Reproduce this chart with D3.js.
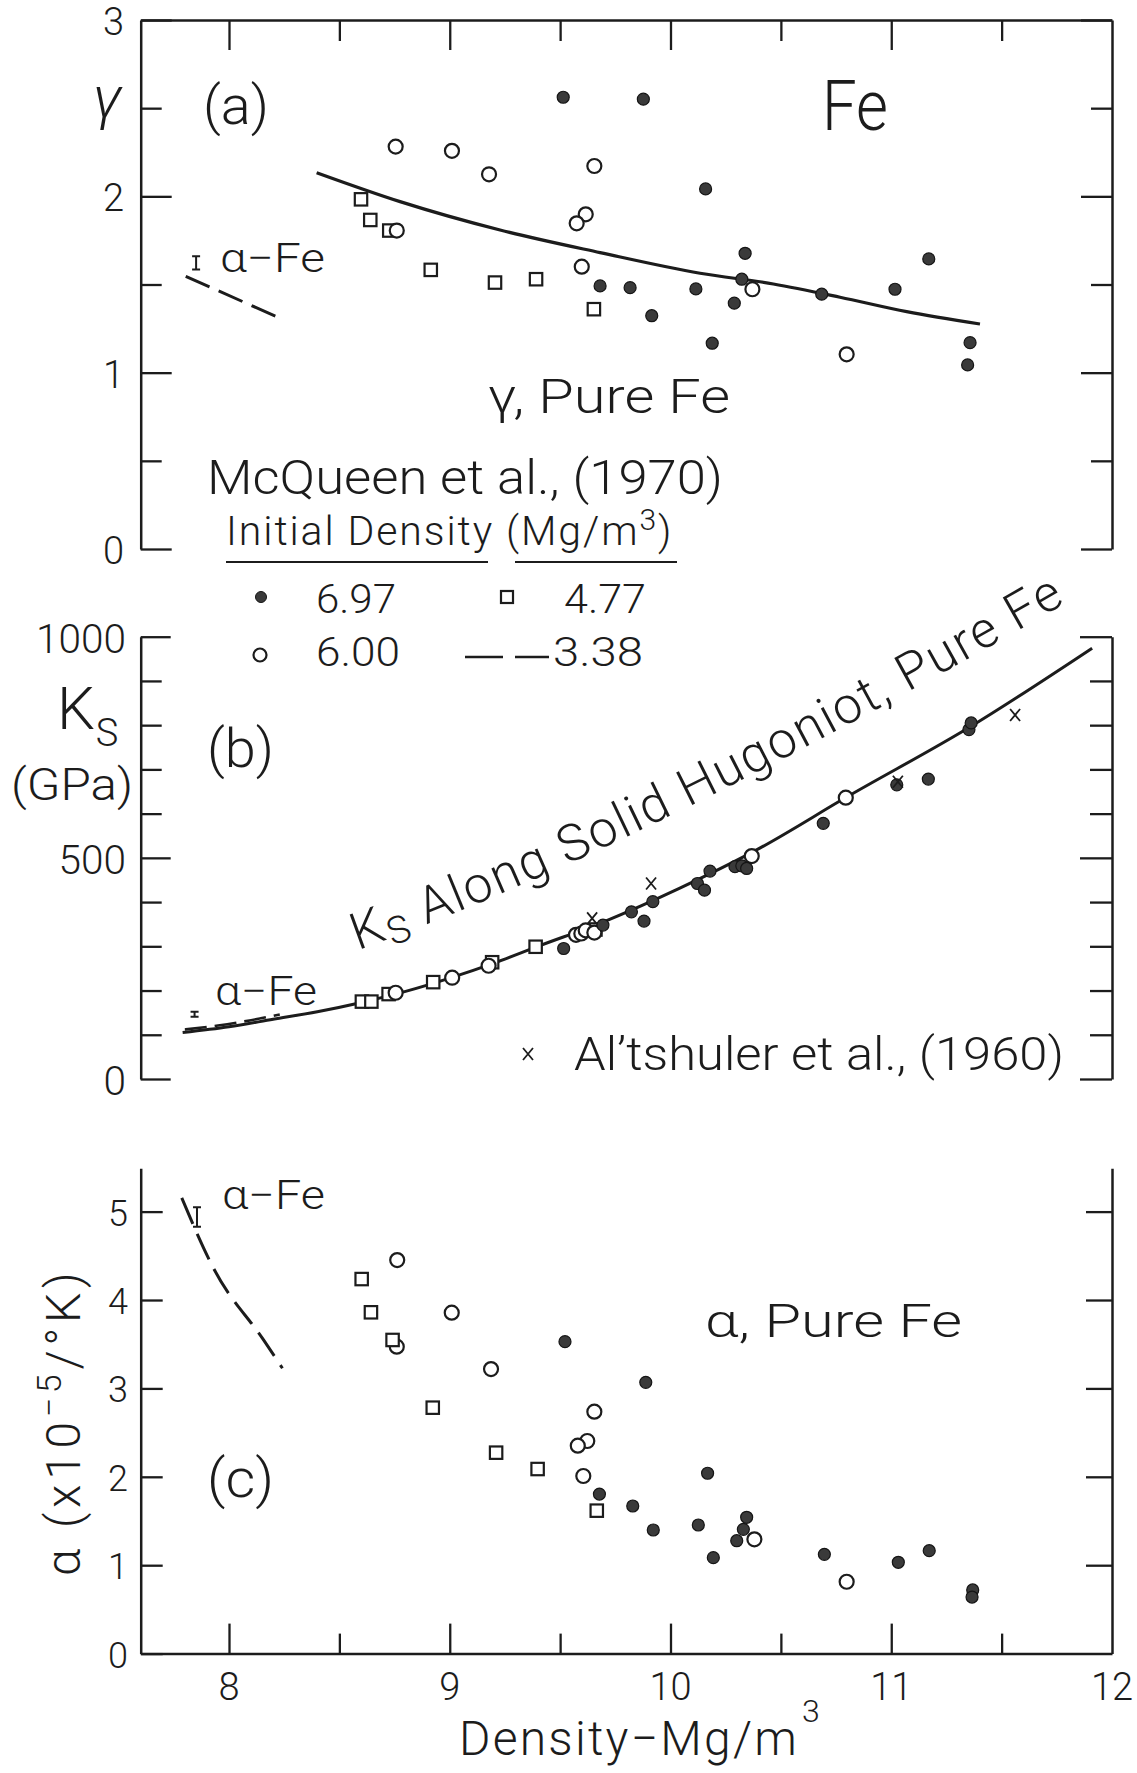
<!DOCTYPE html>
<html><head><meta charset="utf-8">
<script src="https://cdn.jsdelivr.net/npm/d3@7"></script>
<style>
body{margin:0;background:#fff}
svg{display:block;background:#fff}
text{font-family:Roboto,"Open Sans","DejaVu Sans",sans-serif;font-weight:300;fill:#1c1c1c}
</style></head>
<body><svg id="chart" width="1137" height="1773"></svg>
<script>
// ---------------- DATA ----------------
// Panel (a): Grüneisen gamma vs density
const gFilledRho = [9.514, 9.877, 9.681, 9.817, 9.915, 10.115, 10.159, 10.338, 10.323, 10.289, 10.189, 10.685, 11.017, 11.170, 11.357, 11.346];
const gFilledVal = [2.562, 2.551, 1.492, 1.482, 1.323, 1.475, 2.042, 1.677, 1.530, 1.394, 1.167, 1.445, 1.473, 1.645, 1.170, 1.044];
const gOpenRho = [8.755, 9.010, 9.178, 9.655, 9.616, 9.575, 9.598, 8.760, 10.371, 10.798];
const gOpenVal = [2.282, 2.258, 2.125, 2.172, 1.898, 1.847, 1.601, 1.806, 1.473, 1.104];
const gSqRho = [8.598, 8.640, 8.726, 8.914, 9.205, 9.391, 9.653];
const gSqVal = [1.983, 1.866, 1.806, 1.583, 1.511, 1.530, 1.360];
const gCurveRho = [8.397, 8.775, 9.228, 9.681, 10.134, 10.466, 10.768, 11.070, 11.402];
const gCurveVal = [2.134, 1.970, 1.809, 1.681, 1.564, 1.503, 1.428, 1.346, 1.276];
const gDashRho = [7.804, 8.235];
const gDashVal = [1.546, 1.307];
const gErrRho = 7.851, gErrLo = 1.585, gErrHi = 1.660;

// Panel (b): K_S vs density
const kFilledRho = [9.516, 9.694, 9.823, 9.880, 9.920, 10.122, 10.154, 10.179, 10.292, 10.323, 10.345, 10.692, 11.025, 11.168, 11.352, 11.362];
const kFilledVal = [295, 348, 378, 357, 401, 442, 427, 470, 480, 482, 476, 578, 665, 678, 790, 805];
const kOpenRho = [8.755, 9.011, 9.176, 9.572, 9.596, 9.616, 9.655, 10.368, 10.794];
const kOpenVal = [195, 229, 256, 326, 329, 336, 331, 504, 636];
const kSqRho = [8.602, 8.645, 8.723, 8.925, 9.192, 9.389, 9.660];
const kSqVal = [175, 175, 192, 219, 264, 299, 338];
const kAltRho = [9.645, 9.912, 11.030, 11.561];
const kAltVal = [363, 442, 672, 823];
const kCurveRho = [7.79, 8.0, 8.2, 8.4, 8.6, 8.8, 9.0, 9.2, 9.4, 9.7, 10.04, 10.39, 10.8, 11.36, 11.91];
const kCurveVal = [105, 118, 135, 152, 173, 198, 228, 262, 300, 356, 431, 518, 638, 797, 974];
const kDashRho = [7.80, 7.95, 8.10, 8.23];
const kDashVal = [112, 121, 133, 146];
const kErrRho = 7.844, kErrLo = 141, kErrHi = 152;

// Panel (c): thermal expansion alpha vs density
const aFilledRho = [9.522, 9.888, 9.678, 9.829, 9.922, 10.168, 10.126, 10.194, 10.345, 10.330, 10.300, 10.697, 11.032, 11.172, 11.369, 11.366];
const aFilledVal = [3.529, 3.069, 1.805, 1.670, 1.398, 2.040, 1.455, 1.085, 1.542, 1.406, 1.277, 1.123, 1.033, 1.164, 0.720, 0.640];
const aOpenRho = [8.762, 9.009, 8.760, 9.187, 9.655, 9.623, 9.580, 9.605, 10.380, 10.798];
const aOpenVal = [4.452, 3.857, 3.472, 3.219, 2.737, 2.405, 2.352, 2.009, 1.293, 0.813];
const aSqRho = [8.601, 8.643, 8.741, 8.923, 9.210, 9.398, 9.666];
const aSqVal = [4.237, 3.861, 3.548, 2.782, 2.273, 2.088, 1.617];
const aDashRho = [7.786, 7.933, 8.158, 8.242];
const aDashVal = [5.155, 4.345, 3.544, 3.228];
const aErrRho = 7.855, aErrLo = 4.83, aErrHi = 5.05;

// Tick labels
const xTickLabels = ["8", "9", "10", "11", "12"];
const xTickVals = [8, 9, 10, 11, 12];
const gTickVals = [0, 1, 2, 3];
const kTickVals = [0, 500, 1000];
const aTickVals = [0, 1, 2, 3, 4, 5];
const legendLabels = ["6.97", "6.00", "4.77", "3.38"];

// ---------------- SCALES ----------------
const svg = d3.select("#chart");
const INK = "#1c1c1c";
const x = d3.scaleLinear().domain([7.6, 12]).range([140.7, 1112]);
const yA = d3.scaleLinear().domain([0, 3]).range([549, 20]);
const yB = d3.scaleLinear().domain([0, 1000]).range([1079, 636.7]);
const yC = d3.scaleLinear().domain([0, 5.49]).range([1653.6, 1168.3]);

const zip = (a, b) => a.map((v, i) => [v, b[i]]);

function styleAxis(g, showDomain) {
  g.selectAll("text").remove();
  g.selectAll("line").attr("stroke", INK).attr("stroke-width", 2.3);
  g.select(".domain").attr("stroke", showDomain ? INK : "none").attr("stroke-width", 2.5);
}
function axis(gen, scale, vals, size, tx, ty, showDomain) {
  const a = gen(scale).tickValues(vals).tickSize(size).tickSizeOuter(0).tickFormat("");
  const g = svg.append("g").attr("transform", `translate(${tx},${ty})`).call(a);
  styleAxis(g, showDomain);
  return g;
}
const L = x.range()[0], R = x.range()[1];

// ---------------- PANEL (a) ----------------
axis(d3.axisRight, yA, [0, 1, 2, 3], 31, L, 0, true);
axis(d3.axisRight, yA, [0.5, 1.5, 2.5], 21, L, 0, false);
axis(d3.axisLeft, yA, [0, 1, 2, 3], 31, R, 0, true);
axis(d3.axisLeft, yA, [0.5, 1.5, 2.5], 21, R, 0, false);
axis(d3.axisBottom, x, [8, 9, 10, 11], 30, 0, yA(3), true);
axis(d3.axisBottom, x, [8.5, 9.5, 10.5, 11.5], 21, 0, yA(3), false);

// ---------------- PANEL (b) ----------------
axis(d3.axisRight, yB, [0, 500, 1000], 30, L, 0, true);
axis(d3.axisRight, yB, [100, 200, 300, 400, 600, 700, 800, 900], 21, L, 0, false);
axis(d3.axisLeft, yB, [0, 500, 1000], 32, R, 0, true);
axis(d3.axisLeft, yB, [100, 200, 300, 400, 600, 700, 800, 900], 22, R, 0, false);

// ---------------- PANEL (c) ----------------
axis(d3.axisRight, yC, [0, 1, 2, 3, 4, 5], 22, L, 0, true);
axis(d3.axisLeft, yC, [1, 2, 3, 4, 5], 26, R, 0, true);
axis(d3.axisTop, x, [8, 9, 10, 11], 30, 0, yC(0), true);
axis(d3.axisTop, x, [8.5, 9.5, 10.5, 11.5], 20, 0, yC(0), false);

// ---------------- text helpers ----------------
function txt(px, py, s, size, opt = {}) {
  const t = svg.append("text").attr("x", px).attr("y", py).attr("font-size", size).text(s);
  if (opt.anchor) t.attr("text-anchor", opt.anchor);
  if (opt.len) t.attr("textLength", opt.len).attr("lengthAdjust", "spacingAndGlyphs");
  if (opt.italic) t.attr("font-style", "italic");
  return t;
}
// spread letters so that a text (with tspans) spans a target width
function fit(t, target) {
  const n = t.node();
  const len = n.getComputedTextLength();
  const chars = n.textContent.length;
  if (chars > 1 && len > 0) t.attr("letter-spacing", ((target - len) / chars).toFixed(2));
}

// y tick labels
gTickVals.forEach(v => txt(124, yA(v) + 15, String(v), 38, {anchor: "end"}));
kTickVals.forEach(v => txt(126, yB(v) + 16, String(v), 40, {anchor: "end", len: String(v).length * 22.5}));
aTickVals.forEach(v => txt(128, yC(v) + 14, String(v), 36, {anchor: "end"}));
// x tick labels
xTickVals.forEach((v, i) => txt(x(v), 1700, xTickLabels[i], 38, {anchor: "middle"}));

// axis titles
txt(107, 118, "γ", 60, {anchor: "middle", italic: true});
txt(76, 729, "K", 60, {anchor: "middle"});
txt(107, 746, "S", 38, {anchor: "middle"});
txt(72, 800, "(GPa)", 44, {anchor: "middle", len: 122});
const yt = svg.append("text").attr("transform", `translate(80,1576) rotate(-90)`)
  .attr("font-size", 48);
yt.append("tspan").text("α  (x10");
yt.append("tspan").attr("font-size", 34).attr("dy", -19).text("−5");
yt.append("tspan").attr("dy", 19).text("/°K)");
fit(yt, 313);

const dens = txt(459, 1755, "Density−Mg/m", 48);
fit(dens, 340);
txt(802, 1722, "3", 32);

// panel labels
txt(203, 124, "(a)", 54, {len: 66});
txt(822, 130, "Fe", 70, {len: 66});
txt(207, 767, "(b)", 54, {len: 67});
txt(207, 1497, "(c)", 54, {len: 67});

txt(220, 272, "α−Fe", 40, {len: 105});
txt(215, 1005, "α−Fe", 40, {len: 102});
txt(222, 1209, "α−Fe", 40, {len: 103});

txt(488, 413, "γ,  Pure  Fe", 48, {len: 242});
txt(705, 1337, "α,  Pure  Fe", 46, {len: 257});

// legend block
txt(207, 494, "McQueen  et  al.,  (1970)", 48, {len: 516});
const idt = svg.append("text").attr("x", 226).attr("y", 545).attr("font-size", 41);
idt.append("tspan").text("Initial  Density  (Mg/m");
idt.append("tspan").attr("font-size", 30).attr("dy", -15).text("3");
idt.append("tspan").attr("dy", 15).text(")");
fit(idt, 451);
svg.append("line").attr("x1", 226).attr("x2", 488).attr("y1", 562).attr("y2", 562).attr("stroke", INK).attr("stroke-width", 2);
svg.append("line").attr("x1", 515).attr("x2", 677).attr("y1", 562).attr("y2", 562).attr("stroke", INK).attr("stroke-width", 2);

txt(316, 613, legendLabels[0], 40, {len: 80});
txt(316, 666, legendLabels[1], 40, {len: 84});
txt(564, 613, legendLabels[2], 40, {len: 82});
txt(553, 666, legendLabels[3], 40, {len: 90});

txt(574, 1070, "Al’tshuler  et  al., (1960)", 46, {len: 490});

// K_S Along Solid Hugoniot text along a curve
const ksPath = svg.append("defs").append("path").attr("id", "kspath").attr("d", "M358,950 Q641,850 1092,588");
const kt = svg.append("text").attr("font-size", 51);
const tp = kt.append("textPath").attr("href", "#kspath");
tp.append("tspan").text("K");
tp.append("tspan").attr("font-size", 38).attr("dy", 8).text("S");
tp.append("tspan").attr("dy", -8).text("  Along  Solid  Hugoniot,  Pure  Fe");
fit(kt, ksPath.node().getTotalLength() - 18);

// ---------------- marks ----------------
function lineOf(xs, ys, yS, curve, dash, w) {
  const gen = d3.line().x(d => x(d[0])).y(d => yS(d[1])).curve(curve || d3.curveLinear);
  const p = svg.append("path").attr("d", gen(zip(xs, ys))).attr("fill", "none")
    .attr("stroke", INK).attr("stroke-width", w || 3).attr("stroke-linecap", "butt");
  if (dash) p.attr("stroke-dasharray", dash);
  return p;
}
function filled(xs, ys, yS) {
  svg.append("g").selectAll("circle").data(zip(xs, ys)).join("circle")
    .attr("cx", d => x(d[0])).attr("cy", d => yS(d[1])).attr("r", 6)
    .attr("fill", "#3a3a3a").attr("stroke", "#151515").attr("stroke-width", 1.2);
}
function open(xs, ys, yS) {
  svg.append("g").selectAll("circle").data(zip(xs, ys)).join("circle")
    .attr("cx", d => x(d[0])).attr("cy", d => yS(d[1])).attr("r", 7)
    .attr("fill", "#fff").attr("stroke", INK).attr("stroke-width", 2.2);
}
function squares(xs, ys, yS) {
  svg.append("g").selectAll("rect").data(zip(xs, ys)).join("rect")
    .attr("x", d => x(d[0]) - 6.2).attr("y", d => yS(d[1]) - 6.2).attr("width", 12.4).attr("height", 12.4)
    .attr("fill", "#fff").attr("stroke", INK).attr("stroke-width", 2.2);
}
function crosses(xs, ys, yS) {
  svg.append("g").selectAll("path").data(zip(xs, ys)).join("path")
    .attr("transform", d => `translate(${x(d[0])},${yS(d[1])})`)
    .attr("d", "M-5,-6L5,6M-5,6L5,-6").attr("stroke", INK).attr("stroke-width", 1.8).attr("fill", "none");
}
function errBar(rx, lo, hi, yS) {
  const cx = x(rx), y1 = yS(hi), y2 = yS(lo);
  svg.append("path").attr("d", `M${cx - 4},${y1}H${cx + 4}M${cx},${y1}V${y2}M${cx - 4},${y2}H${cx + 4}`)
    .attr("stroke", INK).attr("stroke-width", 2).attr("fill", "none");
}

// (a)
lineOf(gCurveRho, gCurveVal, yA, d3.curveMonotoneX, null, 3.2);
lineOf(gDashRho, gDashVal, yA, null, "26 10", 3);
errBar(gErrRho, gErrLo, gErrHi, yA);
squares(gSqRho, gSqVal, yA);
open(gOpenRho, gOpenVal, yA);
filled(gFilledRho, gFilledVal, yA);

// (b)
lineOf(kCurveRho, kCurveVal, yB, d3.curveMonotoneX, null, 3);
lineOf(kDashRho, kDashVal, yB, d3.curveMonotoneX, "22 8", 2.6);
errBar(kErrRho, kErrLo, kErrHi, yB);
squares(kSqRho, kSqVal, yB);
open(kOpenRho, kOpenVal, yB);
filled(kFilledRho, kFilledVal, yB);
crosses(kAltRho, kAltVal, yB);

// (c)
lineOf(aDashRho, aDashVal, yC, d3.curveMonotoneX, "28 11", 3);
errBar(aErrRho, aErrLo, aErrHi, yC);
open(aOpenRho, aOpenVal, yC);
squares(aSqRho, aSqVal, yC);
filled(aFilledRho, aFilledVal, yC);

// legend symbols (positions are layout, not data)
svg.append("circle").attr("cx", 261).attr("cy", 597).attr("r", 5.5).attr("fill", "#3a3a3a").attr("stroke", "#151515");
svg.append("circle").attr("cx", 260).attr("cy", 655).attr("r", 6.5).attr("fill", "#fff").attr("stroke", INK).attr("stroke-width", 2.2);
svg.append("rect").attr("x", 501).attr("y", 591).attr("width", 12).attr("height", 12).attr("fill", "#fff").attr("stroke", INK).attr("stroke-width", 2.2);
svg.append("line").attr("x1", 465).attr("x2", 549).attr("y1", 657).attr("y2", 657).attr("stroke", INK).attr("stroke-width", 2.6).attr("stroke-dasharray", "38 12");
svg.append("path").attr("transform", "translate(528,1054)").attr("d", "M-5,-6L5,6M-5,6L5,-6").attr("stroke", INK).attr("stroke-width", 1.8);
</script>
</body></html>
